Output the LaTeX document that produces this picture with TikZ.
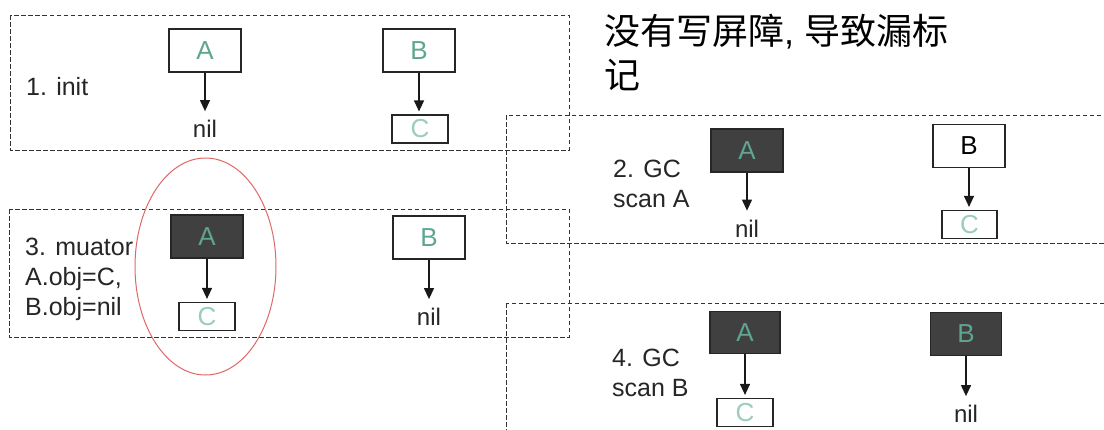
\documentclass[tikz,border=0pt]{standalone}
\usepackage{fontspec}
\setmainfont{Liberation Sans}
\newfontfamily\cjk{Noto Sans CJK SC}
\newfontfamily\latinfont{Liberation Sans}
\usetikzlibrary{arrows.meta}
\definecolor{tealA}{RGB}{95,165,145}
\definecolor{tealC}{RGB}{155,205,190}
\definecolor{darkbox}{RGB}{64,64,64}
\definecolor{ringred}{RGB}{222,105,105}
\begin{document}
\begin{tikzpicture}[x=1pt,y=-1pt,
  panel/.style={draw=black!80, line width=1pt, dash pattern=on 4.5pt off 2.5pt},
  obj/.style={draw=black!85, line width=1.2pt, minimum width=72pt, minimum height=43pt, inner sep=0pt,
    font=\fontsize{26}{26}\selectfont, text=tealA},
  objdark/.style={obj, fill=darkbox},
  cbox/.style={draw=black!85, line width=1.2pt, minimum width=56pt, minimum height=28pt, inner sep=0pt,
    font=\fontsize{26}{26}\selectfont, text=tealC},
  nilt/.style={font=\fontsize{24}{24}\selectfont, inner xsep=2pt, inner ysep=9pt, text=black!85},
  lbl/.style={font=\fontsize{25}{30}\selectfont, align=left, anchor=west, inner sep=0pt, text=black!85},
  ptr/.style={-{Triangle[length=11pt,width=10pt]}, line width=1.2pt, black!90},
  ptrc/.style={ptr, shorten >=3pt}]
\useasboundingbox (0,0) rectangle (1104,429);
\clip (0,0) rectangle (1104,429);
\fill[white] (0,0) rectangle (1104,429);
% panels
\draw[panel] (10,15) rectangle (569,150);
\draw[panel] (506,115) rectangle (1120,243);
\draw[panel] (9,209) rectangle (569,337);
\draw[panel] (506,303) rectangle (1120,450);
% title
\node[anchor=north west, inner sep=0pt, align=left, font=\cjk\fontsize{36}{44}\selectfont] (title) at (604,14) {没有写屏障{\latinfont, }导致漏标\\记};
% panel 1
\node[lbl] (L1) at (26,87) {1. init};
\node[obj] (A1) at (205,50.5) {A};
\node[obj] (B1) at (419,50.5) {B};
\node[nilt] (N1) at (205,129) {nil};
\node[cbox] (C1) at (420,129) {C};
\draw[ptr] (A1.south) -- (A1.south |- N1.north);
\draw[ptrc] (B1.south) -- (B1.south |- C1.north);
% panel 2
\node[lbl] (L2) at (613,184) {2. GC\\scan A};
\node[objdark] (A2) at (747,150.5) {A};
\node[obj, text=black] (B2) at (969,146) {B};
\node[nilt] (N2) at (747,228.5) {nil};
\node[cbox, minimum width=55pt] (C2) at (969.5,224.5) {C};
\draw[ptr] (A2.south) -- (A2.south |- N2.north);
\draw[ptrc] (B2.south) -- (B2.south |- C2.north);
% panel 3
\node[lbl] (L3) at (25,279) {3. muator\\A.obj=C,\\B.obj=nil};
\node[objdark] (A3) at (207,236.5) {A};
\node[cbox] (C3) at (207,316.5) {C};
\node[obj] (B3) at (429,237.5) {B};
\node[nilt] (N3) at (429,317) {nil};
\draw[ptrc] (A3.south) -- (A3.south |- C3.north);
\draw[ptr] (B3.south) -- (B3.south |- N3.north);
\draw[ringred, line width=1pt] (205.5,266.5) ellipse [x radius=70.5, y radius=108.5];
% panel 4
\node[lbl] (L4) at (612,373) {4. GC\\scan B};
\node[objdark, minimum width=70pt, minimum height=42pt] (A4) at (745,332.5) {A};
\node[cbox] (C4) at (745,412.5) {C};
\node[objdark, minimum width=71pt] (B4) at (966,334) {B};
\node[nilt] (N4) at (966,414) {nil};
\draw[ptrc] (A4.south) -- (A4.south |- C4.north);
\draw[ptr] (B4.south) -- (B4.south |- N4.north);
\end{tikzpicture}
\end{document}
